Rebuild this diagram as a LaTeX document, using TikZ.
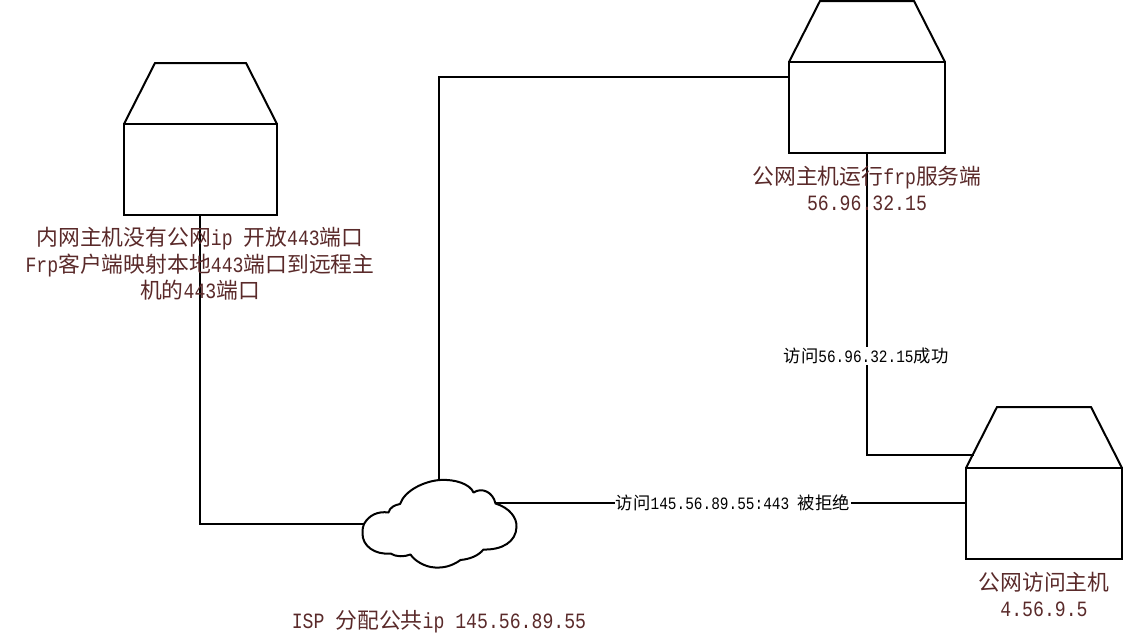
\documentclass[tikz,border=0pt]{standalone}
\usepackage{fontspec}
\setmainfont[FakeStretch=0.8333]{Liberation Mono}
\newfontfamily\cjkf{Noto Sans CJK SC}
\newcommand\Zh[1]{{\cjkf #1}}
\definecolor{captioncol}{HTML}{5A2A2A}
\tikzset{
  hostbox/.style={draw=black,line width=2pt,fill=white,minimum width=#1,minimum height=91pt,inner sep=0pt,outer sep=0pt},
  hostroof/.style={draw=black,line width=2pt,line join=miter},
  wire/.style={draw=black,line width=2pt},
  caption/.style={text=captioncol,font=\fontsize{21.8pt}{26.5pt}\selectfont,align=center,inner sep=0pt},
  wirelabel/.style={fill=white,text=black,font=\fontsize{17.33pt}{20pt}\selectfont,inner sep=1pt},
}
\begin{document}
\begin{tikzpicture}[x=1pt,y=-1pt]
\useasboundingbox (0,0) rectangle (1133,640);
% connectors
\node[inner sep=0pt,minimum size=0pt] (cloudL) at (364,524) {};
\node[inner sep=0pt,minimum size=0pt] (cloudT) at (439,481) {};
\node[inner sep=0pt,minimum size=0pt] (cloudR) at (496,503) {};
\node[hostbox=153pt] (inner) at (200.5,169.5) {};
\node[hostbox=156pt] (server) at (867,107.5) {};
\node[hostbox=156pt] (visitor) at (1044,513.5) {};
\coordinate (roofjoin) at (974,455);
\draw[wire] (200,0 |- inner.south) -- (200,524) -- (cloudL);
\draw[wire] (cloudT) -- (439,77) -- (server.west |- 439,77);
\draw[wire] (cloudR) -- (cloudR -| visitor.west) node[pos=0.504,wirelabel] (refused) {\Zh{访问}145.56.89.55:443 \Zh{被拒绝}};
\draw[wire] (server.south) -- (867,455) -- (roofjoin);
\node[wirelabel] (okay) at (866,356) {\Zh{访问}56.96.32.15\Zh{成功}};
% hosts' roofs
\draw[hostroof] (inner.north west) -- (155,63) -- (246,63) -- (inner.north east);
\draw[hostroof] (server.north west) -- (820,1) -- (914,1) -- (server.north east);
\draw[hostroof] (visitor.north west) -- (997,407) -- (1091,407) -- (visitor.north east);
% cloud
\draw[wire,fill=white,line join=round] (364,524)
  .. controls (369,515) and (378,511) .. (388.5,512.5)
  .. controls (390,507) and (395,505) .. (400,504)
  .. controls (405,490) and (425,481) .. (440,480)
  .. controls (455,479) and (470,484) .. (473.5,492.5)
  .. controls (482,487) and (493,492) .. (495.5,503.5)
  .. controls (510,508) and (517,518) .. (516.5,527)
  .. controls (516,542) and (502,550) .. (483.5,549.5)
  .. controls (478,556) and (470,559) .. (460.5,560)
  .. controls (452,566) and (444,568) .. (435,567.5)
  .. controls (424,567) and (414,560) .. (410.5,554.5)
  .. controls (404,557) and (396,557) .. (390.5,553.5)
  .. controls (375,555) and (362,546) .. (362.5,533)
  .. controls (362.5,529) and (363,526) .. (364,524) -- cycle;
% captions
\node[caption] (innercap) at (200,264) {\Zh{内网主机没有公网}ip \Zh{开放}443\Zh{端口}\\Frp\Zh{客户端映射本地}443\Zh{端口到远程主}\\\Zh{机的}443\Zh{端口}};
\node[caption] (servercap) at (867,188.5) {\Zh{公网主机运行}frp\Zh{服务端}\\56.96.32.15};
\node[caption] (visitorcap) at (1044,594.5) {\Zh{公网访问主机}\\4.56.9.5};
\node[caption] (ispcap) at (439,622) {ISP \Zh{分配公共}ip 145.56.89.55};
\end{tikzpicture}
\end{document}
